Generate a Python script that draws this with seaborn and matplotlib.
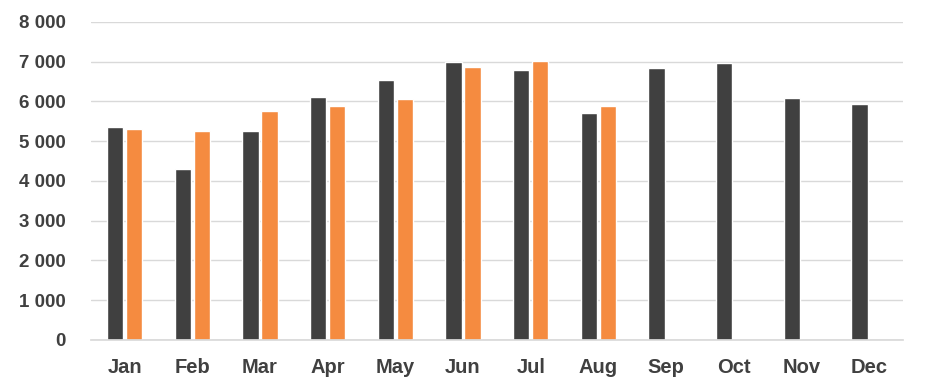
import matplotlib.pyplot as plt
import numpy as np
import pandas as pd
import seaborn as sns

months = ["Jan", "Feb", "Mar", "Apr", "May", "Jun", "Jul", "Aug", "Sep", "Oct", "Nov", "Dec"]
series_prev = [5360, 4300, 5260, 6110, 6540, 6980, 6790, 5710, 6840, 6970, 6090, 5940]
series_curr = [5310, 5260, 5760, 5890, 6060, 6870, 7020, 5890, np.nan, np.nan, np.nan, np.nan]
series_names = ["Previous", "Current"]
y_ticks = [0, 1000, 2000, 3000, 4000, 5000, 6000, 7000, 8000]

df = pd.DataFrame(
    {
        "month": months * 2,
        "value": series_prev + series_curr,
        "series": [series_names[0]] * 12 + [series_names[1]] * 12,
    }
)

sns.set_theme(style="white")
plt.rcParams["font.family"] = ["Liberation Sans", "DejaVu Sans"]

fig = plt.figure(figsize=(9.27, 3.92), dpi=100)
ax = fig.add_axes([0.098, 0.133, 0.876, 0.811])

sns.barplot(
    data=df,
    x="month",
    y="value",
    hue="series",
    order=months,
    hue_order=series_names,
    palette=["#404040", "#F58B40"],
    width=0.56,
    gap=0.14,
    saturation=1,
    legend=False,
    ax=ax,
)

ax.set_ylim(0, 8000)
ax.set_yticks(y_ticks)
ax.set_yticklabels([f"{v:,}".replace(",", " ") for v in y_ticks])
ax.yaxis.grid(True, color="#D9D9D9", linewidth=1)
ax.set_axisbelow(True)
sns.despine(ax=ax, left=True, bottom=False)
ax.spines["bottom"].set_color("#D9D9D9")
ax.set_xlabel("")
ax.set_ylabel("")
ax.tick_params(axis="both", length=0, labelsize=13.5, colors="#404040")
ax.tick_params(axis="y", pad=18)
ax.tick_params(axis="x", pad=13, labelsize=14.5)
for lbl in ax.get_xticklabels() + ax.get_yticklabels():
    lbl.set_fontweight("bold")

fig.savefig("out.png", dpi=100)
